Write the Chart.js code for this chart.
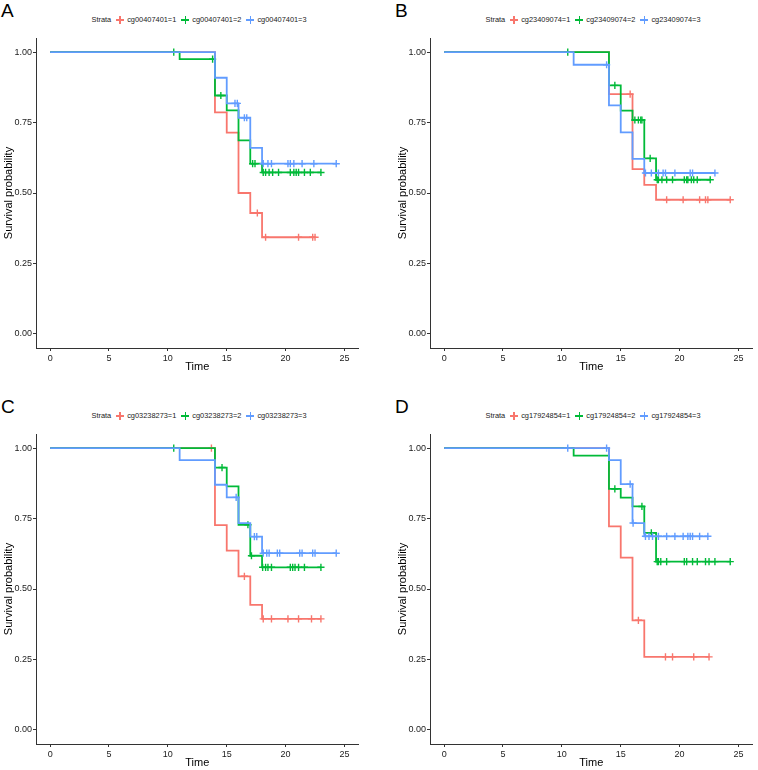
<!DOCTYPE html>
<html>
<head>
<meta charset="utf-8">
<script src="https://cdn.jsdelivr.net/npm/chart.js@4.4.1/dist/chart.umd.min.js"></script>
<style>
  body { margin: 0; background: #fff; font-family: 'Liberation Sans', Arial, sans-serif; }
  #wrap { position: relative; width: 758px; height: 770px; overflow: hidden; background: #fff; }
  .panel { position: absolute; width: 364px; height: 374px; }
  .panel canvas { position: absolute; left: 0; top: 0; }
  .tag { position: absolute; left: 1px; top: 1px; font-size: 19px; line-height: 19px; color: #000; }
  .legend { position: absolute; left: 36px; width: 326px; top: 15px; height: 10px; display: flex; justify-content: center; align-items: center; font-size: 7.4px; line-height: 10px; color: #222; white-space: nowrap; }
  .legend .item { display: flex; align-items: center; margin-left: 5px; }
  .legend .sym { position: relative; width: 8px; height: 8px; margin-right: 3px; }
  .sym::before { content: ''; position: absolute; left: 0; right: 0; top: 3.3px; height: 1.4px; background: currentColor; }
  .sym::after { content: ''; position: absolute; top: 0; bottom: 0; left: 3.3px; width: 1.4px; background: currentColor; }
</style>
</head>
<body>
<div id="wrap">
  <div class="panel" id="pA" style="left:0;top:0"></div>
  <div class="panel" id="pB" style="left:394px;top:0"></div>
  <div class="panel" id="pC" style="left:0;top:396px"></div>
  <div class="panel" id="pD" style="left:394px;top:396px"></div>
</div>
<script>
const xTicks = [0, 5, 10, 15, 20, 25];
const yTicks = [0, 0.25, 0.5, 0.75, 1];
const strataColors = ['#F8766D', '#00BA38', '#619CFF'];

// A - cg00407401
const labelsA = ['cg00407401=1', 'cg00407401=2', 'cg00407401=3'];
const timeA1 = [0, 14, 15, 16, 17, 18];
const survA1 = [1, 0.786, 0.714, 0.5, 0.429, 0.343];
const censA1 = [17.6, 18.3, 21.1, 22.3, 22.5];
const timeA2 = [0, 11, 14, 15, 16, 17, 18];
const survA2 = [1, 0.975, 0.846, 0.793, 0.687, 0.604, 0.573];
const censA2 = [10.5, 13.8, 14.5, 17.2, 17.4, 18.1, 18.3, 18.6, 18.9, 19.4, 20.4, 20.7, 20.9, 21.1, 21.6, 22.1, 23.0];
const timeA3 = [0, 14, 15, 16, 17, 18];
const survA3 = [1, 0.909, 0.818, 0.767, 0.66, 0.604];
const censA3 = [15.7, 15.9, 16.5, 16.7, 18.1, 18.5, 18.8, 20.2, 20.4, 20.7, 21.4, 22.4, 24.3];

// B - cg23409074
const labelsB = ['cg23409074=1', 'cg23409074=2', 'cg23409074=3'];
const timeB1 = [0, 14, 16, 17, 18];
const survB1 = [1, 0.851, 0.585, 0.529, 0.476];
const censB1 = [15.8, 18.9, 20.3, 21.7, 22.2, 22.4, 24.3];
const timeB2 = [0, 14, 15, 16, 17, 18];
const survB2 = [1, 0.882, 0.792, 0.759, 0.623, 0.547];
const censB2 = [10.5, 14.5, 16.2, 16.5, 16.7, 16.8, 17.5, 18.1, 18.2, 18.5, 18.9, 19.4, 20.4, 20.6, 20.7, 21.0, 21.2, 21.5, 22.6];
const timeB3 = [0, 11, 14, 15, 16, 17];
const survB3 = [1, 0.955, 0.811, 0.715, 0.621, 0.571];
const censB3 = [13.8, 17.1, 17.6, 18.2, 18.6, 18.8, 19.6, 20.9, 21.1, 23.0];

// C - cg03238273
const labelsC = ['cg03238273=1', 'cg03238273=2', 'cg03238273=3'];
const timeC1 = [0, 14, 15, 16, 17, 18];
const survC1 = [1, 0.727, 0.636, 0.545, 0.444, 0.394];
const censC1 = [13.7, 16.5, 18.1, 18.8, 20.2, 21.1, 22.2, 23.0];
const timeC2 = [0, 14, 15, 16, 17, 18];
const survC2 = [1, 0.931, 0.864, 0.728, 0.618, 0.577];
const censC2 = [10.5, 14.6, 16.8, 17.1, 18.05, 18.3, 18.5, 18.8, 20.4, 20.6, 20.8, 21.1, 21.6, 23.0];
const timeC3 = [0, 11, 14, 15, 16, 17, 18];
const survC3 = [1, 0.957, 0.870, 0.825, 0.734, 0.686, 0.627];
const censC3 = [15.8, 17.35, 17.55, 18.1, 18.4, 18.6, 19.3, 19.5, 21.2, 21.4, 22.3, 22.5, 24.3];

// D - cg17924854
const labelsD = ['cg17924854=1', 'cg17924854=2', 'cg17924854=3'];
const timeD1 = [0, 14, 15, 16, 17];
const survD1 = [1, 0.722, 0.611, 0.389, 0.259];
const censD1 = [16.5, 18.8, 19.4, 21.2, 22.5];
const timeD2 = [0, 11, 14, 15, 16, 17, 18];
const survD2 = [1, 0.973, 0.855, 0.824, 0.793, 0.699, 0.597];
const censD2 = [14.5, 16.8, 17.6, 18.1, 18.2, 18.4, 18.9, 20.4, 20.6, 21.1, 21.5, 22.2, 22.5, 23.0, 24.3];
const timeD3 = [0, 14, 15, 16, 17];
const survD3 = [1, 0.957, 0.872, 0.734, 0.687];
const censD3 = [10.5, 13.8, 15.8, 16.05, 17.1, 17.4, 17.7, 18.2, 18.9, 19.6, 20.3, 20.7, 20.9, 21.1, 21.7, 22.4];

const FONT = "'Liberation Sans', Arial, sans-serif";
Chart.defaults.font.family = FONT;

// survival value of a step curve at time x
const survAt = (times, survs, x) => {
  let v = survs[0];
  times.forEach((t, i) => { if (t <= x) v = survs[i]; });
  return v;
};

function buildPanel(id, tag, labels, strata) {
  const panel = document.getElementById(id);

  const tagEl = document.createElement('div');
  tagEl.className = 'tag';
  tagEl.textContent = tag;
  panel.appendChild(tagEl);

  // legend row: "Strata" then one entry per group
  const legend = document.createElement('div');
  legend.className = 'legend';
  legend.innerHTML = '<span>Strata</span>' + labels.map((l, i) =>
    `<span class="item"><span class="sym" style="color:${strataColors[i]}"></span><span>${l}</span></span>`).join('');
  panel.appendChild(legend);

  const canvas = document.createElement('canvas');
  canvas.width = 364;
  canvas.height = 374;
  panel.appendChild(canvas);

  const datasets = [];
  strata.forEach(([times, survs, cens], i) => {
    const end = Math.max(times[times.length - 1], ...cens);
    const pts = times.map((t, k) => ({ x: t, y: survs[k] }));
    pts.push({ x: end, y: survs[survs.length - 1] });
    datasets.push({
      label: labels[i],
      data: pts,
      stepped: true,
      borderColor: strataColors[i],
      borderWidth: 1.8,
      pointRadius: 0,
      fill: false,
      order: 2 * (2 - i) + 1
    });
    datasets.push({
      label: labels[i] + ' censor',
      data: cens.map(c => ({ x: c, y: survAt(times, survs, c) })),
      showLine: false,
      pointStyle: 'cross',
      pointRadius: 3.6,
      pointBorderWidth: 1.4,
      borderColor: strataColors[i],
      backgroundColor: strataColors[i],
      order: 2 * (2 - i)
    });
  });

  new Chart(canvas.getContext('2d'), {
    type: 'line',
    data: { datasets },
    options: {
      responsive: false,
      animation: false,
      devicePixelRatio: 1,
      layout: { padding: { top: 38, right: 2, left: 0, bottom: 0 } },
      plugins: { legend: { display: false }, tooltip: { enabled: false } },
      scales: {
        x: {
          type: 'linear',
          min: -1.2,
          max: 26.2,
          afterBuildTicks: s => { s.ticks = xTicks.map(v => ({ value: v })); },
          afterFit: s => { s.height = 26; },
          grid: { drawOnChartArea: false, tickLength: 3, color: '#333' },
          border: { color: '#333', width: 1 },
          ticks: { font: { size: 9 }, color: '#1a1a1a', padding: 2, maxRotation: 0 },
          title: { display: true, text: 'Time', font: { size: 11 }, color: '#000', padding: { top: 0, bottom: 0 } }
        },
        y: {
          type: 'linear',
          min: -0.05,
          max: 1.05,
          afterBuildTicks: s => { s.ticks = yTicks.map(v => ({ value: v })); },
          afterFit: s => { s.width = 36; },
          grid: { drawOnChartArea: false, tickLength: 3, color: '#333' },
          border: { color: '#333', width: 1 },
          ticks: { font: { size: 9 }, color: '#1a1a1a', padding: 1, callback: v => v.toFixed(2) },
          title: { display: true, text: 'Survival probability', font: { size: 11 }, color: '#000', padding: { top: 2, bottom: 0 } }
        }
      }
    }
  });
}

buildPanel('pA', 'A', labelsA, [[timeA1, survA1, censA1], [timeA2, survA2, censA2], [timeA3, survA3, censA3]]);
buildPanel('pB', 'B', labelsB, [[timeB1, survB1, censB1], [timeB2, survB2, censB2], [timeB3, survB3, censB3]]);
buildPanel('pC', 'C', labelsC, [[timeC1, survC1, censC1], [timeC2, survC2, censC2], [timeC3, survC3, censC3]]);
buildPanel('pD', 'D', labelsD, [[timeD1, survD1, censD1], [timeD2, survD2, censD2], [timeD3, survD3, censD3]]);
</script>
</body>
</html>
